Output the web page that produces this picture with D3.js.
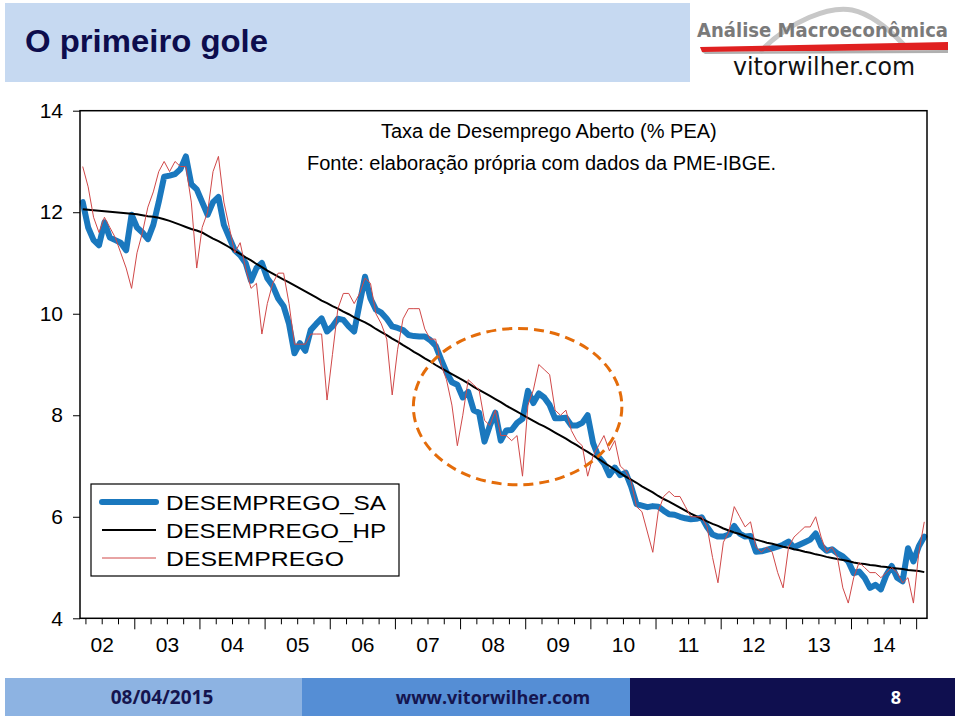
<!DOCTYPE html>
<html><head><meta charset="utf-8">
<script src="https://cdn.jsdelivr.net/npm/d3@7"></script>
<style>body{margin:0;background:#fff}svg{display:block}</style>
</head><body>
<svg id="c" width="960" height="716"></svg>
<script>
// ---------- DATA ----------
const yearLabels = ["02","03","04","05","06","07","08","09","10","11","12","13","14"];
const yTicks = [4, 6, 8, 10, 12, 14];
const seriesNames = ["DESEMPREGO_SA", "DESEMPREGO_HP", "DESEMPREGO"];
// monthly, 2002M03 .. 2015M02 (156 observations)
const desemprego = [
  12.9,12.5,11.9,11.6,11.9,11.7,11.5,11.2,10.9,10.5,
  11.2,11.6,12.1,12.4,12.8,13.0,12.8,13.0,12.9,12.9,12.2,10.9,
  11.7,12.0,12.8,13.1,12.2,11.7,11.2,11.4,10.9,10.5,10.6,9.6,
  10.2,10.6,10.8,10.8,10.2,9.4,9.4,9.4,9.6,9.6,9.6,8.3,
  9.2,10.1,10.4,10.4,10.2,10.4,10.7,10.6,10.0,9.8,9.5,8.4,
  9.3,9.9,10.1,10.1,10.1,9.7,9.5,9.5,9.0,8.7,8.2,7.4,
  8.0,8.7,8.6,8.5,7.9,7.8,8.1,7.6,7.6,7.5,7.6,6.8,
  8.2,8.5,9.0,8.9,8.8,8.1,8.0,8.1,7.7,7.5,7.4,6.8,
  7.2,7.4,7.6,7.3,7.5,7.0,6.9,6.7,6.2,6.1,5.7,5.3,
  6.1,6.4,6.5,6.4,6.4,6.2,6.0,6.0,6.0,5.8,5.2,4.7,
  5.5,5.7,6.2,6.0,5.8,5.9,5.4,5.3,5.4,5.3,4.9,4.6,
  5.4,5.6,5.7,5.8,5.8,6.0,5.6,5.3,5.4,5.2,4.6,4.3,
  4.8,5.1,5.0,4.9,4.9,4.8,4.9,5.0,4.9,4.7,4.8,4.3,
  5.3,5.9
];
const desempregoSA = [
  12.2,11.7,11.45,11.35,11.8,11.5,11.45,11.4,11.25,11.95,
  11.7,11.6,11.47,11.75,12.2,12.7,12.72,12.75,12.85,13.1,12.55,12.45,
  12.2,11.95,12.2,12.3,11.75,11.5,11.25,11.15,11.0,10.65,10.9,11.0,
  10.7,10.55,10.3,10.15,9.8,9.22,9.42,9.27,9.68,9.8,9.91,9.65,
  9.75,9.9,9.88,9.75,9.65,10.2,10.73,10.3,10.08,10.02,9.9,9.75,
  9.72,9.68,9.58,9.56,9.55,9.55,9.48,9.37,9.1,8.85,8.65,8.6,
  8.35,8.46,8.1,8.05,7.48,7.8,8.05,7.5,7.7,7.71,7.85,7.93,
  8.48,8.24,8.43,8.35,8.2,7.94,7.94,7.95,7.8,7.8,7.85,8.0,
  7.45,7.18,7.05,6.82,6.97,6.82,6.87,6.6,6.25,6.22,6.19,6.21,
  6.2,6.12,6.05,6.04,6.0,5.97,5.95,5.96,5.99,5.8,5.65,5.61,
  5.61,5.65,5.82,5.67,5.61,5.62,5.31,5.32,5.35,5.38,5.41,5.45,
  5.51,5.4,5.45,5.5,5.55,5.67,5.43,5.33,5.36,5.28,5.22,5.12,
  4.89,4.92,4.8,4.6,4.66,4.57,4.85,5.03,4.8,4.73,5.38,5.12,
  5.42,5.61
];
const desempregoHP = [
  12.06,12.05,12.04,12.03,12.02,12.01,12.00,11.99,11.98,11.97,
  11.96,11.94,11.92,11.91,11.89,11.86,11.83,11.79,11.75,11.71,11.67,11.64,
  11.60,11.54,11.48,11.43,11.37,11.31,11.24,11.18,11.11,11.05,10.98,10.92,
  10.85,10.79,10.73,10.67,10.62,10.56,10.50,10.44,10.38,10.32,10.26,10.21,
  10.15,10.10,10.04,9.99,9.93,9.88,9.83,9.77,9.70,9.64,9.58,9.51,
  9.45,9.38,9.32,9.25,9.19,9.12,9.06,8.99,8.93,8.87,8.81,8.75,
  8.69,8.63,8.56,8.50,8.44,8.38,8.32,8.26,8.19,8.13,8.07,8.01,
  7.95,7.89,7.83,7.78,7.72,7.66,7.60,7.54,7.47,7.41,7.34,7.28,
  7.21,7.14,7.07,7.00,6.93,6.86,6.79,6.73,6.67,6.60,6.54,6.48,
  6.41,6.35,6.30,6.24,6.18,6.12,6.06,6.01,5.96,5.91,5.86,5.82,
  5.77,5.73,5.69,5.66,5.62,5.58,5.55,5.52,5.49,5.47,5.44,5.41,
  5.39,5.36,5.34,5.31,5.29,5.26,5.24,5.21,5.19,5.17,5.15,5.13,
  5.10,5.08,5.07,5.05,5.04,5.02,5.01,4.99,4.98,4.97,4.95,4.94,
  4.93,4.91
];
// highlighted period (ellipse), in month-index / value units
const highlight = {month: 80.1, value: 8.17, rMonths: 19.2, rValue: 1.54};

// ---------- LAYOUT ----------
const svg = d3.select("#c");
const nObs = desemprego.length;
const plot = {left: 80, right: 927, top: 110.7, bottom: 618.3};
const x = d3.scaleLinear().domain([0, nObs]).range([plot.left, plot.right]);
const y = d3.scaleLinear().domain([4, 14]).range([plot.bottom, plot.top]);
const px = i => x(i + 0.5);

// ---------- HEADER ----------
svg.append("rect").attr("x", 5).attr("y", 3).attr("width", 685).attr("height", 79).attr("fill", "#c6d9f1");
svg.append("text").attr("x", 25).attr("y", 52)
  .attr("font-family", "Liberation Sans, Arial, sans-serif").attr("font-weight", "bold")
  .attr("font-size", 32).attr("fill", "#0d0d4d")
  .attr("textLength", 243).attr("lengthAdjust", "spacingAndGlyphs").text("O primeiro gole");

// logo
const logo = svg.append("g");
logo.append("path").attr("d", "M760,52 C790,20 830,6 852,10 C872,14 890,30 905,46")
  .attr("fill", "none").attr("stroke", "#c8c8c8").attr("stroke-width", 5);
logo.append("path").attr("d", "M700,47 L948,42 L948,50 L702,52 Z").attr("fill", "#e02020");
logo.append("path").attr("d", "M702,52 L948,50 L948,53 L705,54 Z").attr("fill", "#b0b0b0");
logo.append("text").attr("x", 697).attr("y", 37)
  .attr("font-family", "DejaVu Sans, sans-serif").attr("font-size", 19).attr("font-weight", "bold")
  .attr("fill", "#7a7a7a").attr("textLength", 251).attr("lengthAdjust", "spacingAndGlyphs")
  .text("Análise Macroeconômica");
logo.append("text").attr("x", 733).attr("y", 75)
  .attr("font-family", "DejaVu Sans, sans-serif").attr("font-size", 24)
  .attr("fill", "#111").attr("textLength", 182).attr("lengthAdjust", "spacingAndGlyphs")
  .text("vitorwilher.com");

// ---------- PLOT ----------
const font = "Liberation Sans, Arial, sans-serif";

// annotation texts
svg.append("text").attr("x", 381).attr("y", 138).attr("font-family", font).attr("font-size", 20)
  .attr("fill", "#000").text("Taxa de Desemprego Aberto (% PEA)");
svg.append("text").attr("x", 307).attr("y", 170).attr("font-family", font).attr("font-size", 20)
  .attr("fill", "#000").text("Fonte: elaboração própria com dados da PME-IBGE.");

// lines
const line = d3.line().x((d, i) => px(i)).y(d => y(d));
svg.append("path").datum(desempregoSA).attr("d", line).attr("fill", "none")
  .attr("stroke", "#1a78be").attr("stroke-width", 6).attr("stroke-linejoin", "round").attr("stroke-linecap", "round");
svg.append("path").datum(desempregoHP).attr("d", line).attr("fill", "none")
  .attr("stroke", "#000").attr("stroke-width", 2);
svg.append("path").datum(desemprego).attr("d", line).attr("fill", "none")
  .attr("stroke", "#d04848").attr("stroke-width", 1);

// ellipse highlight
svg.append("ellipse")
  .attr("cx", px(highlight.month)).attr("cy", y(highlight.value))
  .attr("rx", x(highlight.rMonths) - x(0)).attr("ry", y(0) - y(highlight.rValue))
  .attr("fill", "none").attr("stroke", "#e46c0a").attr("stroke-width", 3).attr("stroke-dasharray", "10,6");

// frame
svg.append("rect").attr("x", plot.left).attr("y", plot.top)
  .attr("width", plot.right - plot.left).attr("height", plot.bottom - plot.top)
  .attr("fill", "none").attr("stroke", "#000").attr("stroke-width", 1.5);

// y axis
const yAx = svg.append("g").attr("transform", `translate(${plot.left},0)`)
  .call(d3.axisLeft(y).tickValues(yTicks).tickSize(7).tickPadding(10).tickFormat(d3.format("d")));
yAx.select(".domain").remove();
yAx.selectAll("text").attr("font-family", font).attr("font-size", 21).attr("fill", "#000");

// x axis ticks (quarters, years)
const quarterIdx = d3.range(nObs).filter(i => (i + 2) % 3 === 0 && i > 0);
const yearIdx = quarterIdx.filter(i => (i + 2) % 12 === 0);
const xAx = svg.append("g").attr("transform", `translate(0,${plot.bottom})`)
  .call(d3.axisBottom(x).tickValues(quarterIdx).tickSize(6).tickFormat(""));
xAx.select(".domain").remove();
xAx.selectAll(".tick line").attr("y2", d => yearIdx.includes(d) ? 11 : 6);

const yearCenters = yearLabels.map((l, k) => k * 12 + 4);
const xLab = svg.append("g").attr("transform", `translate(0,${plot.bottom})`)
  .call(d3.axisBottom(x).tickValues(yearCenters).tickSize(0).tickPadding(19)
    .tickFormat((d, k) => yearLabels[k]));
xLab.select(".domain").remove();
xLab.selectAll("text").attr("font-family", font).attr("font-size", 21).attr("fill", "#000");

// legend
const lg = svg.append("g");
lg.append("rect").attr("x", 91).attr("y", 484).attr("width", 308).attr("height", 92)
  .attr("fill", "#fff").attr("stroke", "#000").attr("stroke-width", 1.2);
const legStyles = [
  {stroke: "#1a78be", w: 6},
  {stroke: "#000", w: 2},
  {stroke: "#d04848", w: 1}
];
seriesNames.forEach((n, k) => {
  const cy = 502 + k * 28;
  lg.append("line").attr("x1", 102).attr("x2", 156).attr("y1", cy).attr("y2", cy)
    .attr("stroke", legStyles[k].stroke).attr("stroke-width", legStyles[k].w).attr("stroke-linecap", k === 0 ? "round" : "butt");
  lg.append("text").attr("x", 166).attr("y", cy + 8).attr("font-family", font).attr("font-size", 21)
    .attr("textLength", k === 2 ? 178 : 220).attr("lengthAdjust", "spacingAndGlyphs")
    .attr("fill", "#000").text(n);
});

// ---------- FOOTER ----------
const footer = [
  {x: 5, w: 297, fill: "#8db3e2", text: "08/04/2015", tx: 162, col: "#15154f", size: 19},
  {x: 302, w: 328, fill: "#558ed5", text: "www.vitorwilher.com", tx: 493, col: "#15154f", size: 18},
  {x: 630, w: 325, fill: "#0f0f4f", text: "8", tx: 896, col: "#ffffff", size: 18}
];
footer.forEach(f => {
  svg.append("rect").attr("x", f.x).attr("y", 678).attr("width", f.w).attr("height", 38).attr("fill", f.fill);
  svg.append("text").attr("x", f.tx).attr("y", 704).attr("text-anchor", "middle")
    .attr("font-family", "Open Sans, Lato, sans-serif").attr("font-weight", "bold").attr("font-size", f.size)
    .attr("fill", f.col).text(f.text);
});
</script>
</body></html>
